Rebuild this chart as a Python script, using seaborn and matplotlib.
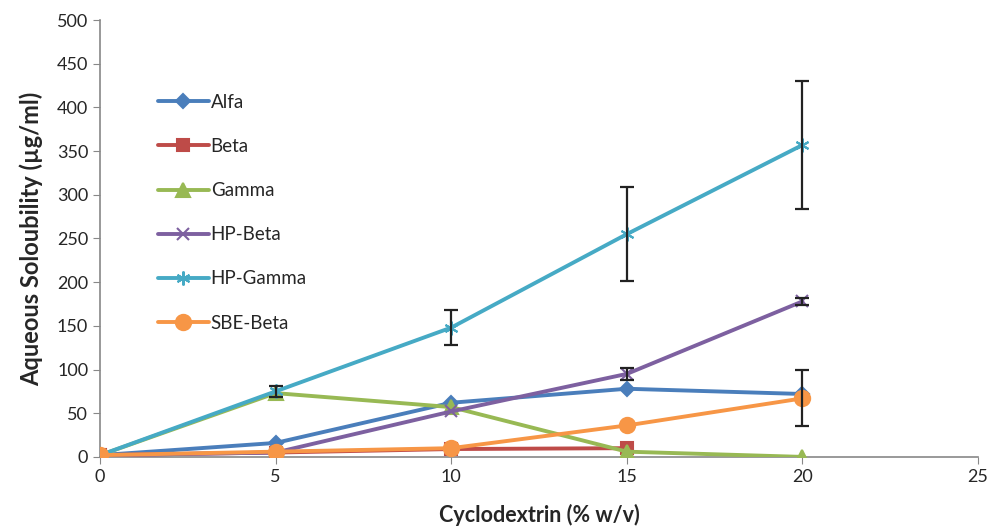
import matplotlib
matplotlib.use("Agg")
import matplotlib.pyplot as plt
import seaborn as sns
import numpy as np
import pandas as pd

# concentracao de ciclodextrina (% w/v)
conc = [0, 5, 10, 15, 20]

alfa = [2, 16, 62, 78, 72]
beta = [2, 5, 9, 10]            # so ate 15%
gamma = [2, 73, 57, 6, 0]
hp_beta = [2, 5, 52, 95, 178]
hp_gamma = [2, 75, 148, 255, 357]
sbe_beta = [2, 6, 10, 36, 67]

hp_gamma_err = [0, 6, 20, 54, 73]
hp_beta_err = [0, 0, 0, 7, 4]
sbe_beta_err = [0, 0, 0, 0, 32]

series_names = ["Alfa", "Beta", "Gamma", "HP-Beta", "HP-Gamma", "SBE-Beta"]
series_vals = [alfa, beta, gamma, hp_beta, hp_gamma, sbe_beta]

colors = ["#4a7ebb", "#be4b48", "#98b954", "#7d60a0", "#46aac5", "#f79646"]
markers = ["D", "s", "^", "x", (6, 2, 0), "o"]
msizes = [7, 9, 10, 9, 10, 11]

rows = []
for name, vals in zip(series_names, series_vals):
    for c, v in zip(conc, vals):
        rows.append({"conc": c, "sol": v, "cd": name})
df = pd.DataFrame(rows)

sns.set_style("white")
plt.rcParams["font.family"] = ["Lato", "DejaVu Sans"]

fig = plt.figure(figsize=(9.9, 5.27), dpi=100)
ax = fig.add_axes([0.101, 0.133, 0.887, 0.829])

for name, col, mk, ms in zip(series_names, colors, markers, msizes):
    sub = df[df["cd"] == name]
    sns.lineplot(data=sub, x="conc", y="sol", ax=ax, color=col, marker=mk,
                 markersize=ms, linewidth=2.8, label=name,
                 markeredgecolor=col, markeredgewidth=1.5, zorder=3)

# barras de erro
for vals, errs in [(hp_gamma, hp_gamma_err), (hp_beta, hp_beta_err), (sbe_beta, sbe_beta_err)]:
    x_e = [c for c, e in zip(conc, errs) if e > 0]
    y_e = [v for v, e in zip(vals, errs) if e > 0]
    e_e = [e for e in errs if e > 0]
    ax.errorbar(x_e, y_e, yerr=e_e, fmt="none", ecolor="#222222",
                elinewidth=1.6, capsize=5, capthick=1.6, zorder=4)

ax.set_xlim(0, 25)
ax.set_ylim(0, 500)
ax.set_xticks(np.arange(0, 26, 5))
ax.set_yticks(np.arange(0, 501, 50))
ax.tick_params(axis="both", labelsize=13, direction="out", length=5,
               color="#888888", bottom=True, left=True)
ax.spines["top"].set_visible(False)
ax.spines["right"].set_visible(False)
for s in ["left", "bottom"]:
    ax.spines[s].set_color("#888888")
    ax.spines[s].set_linewidth(1.2)

ax.set_xlabel("Cyclodextrin (% w/v)", fontsize=15.5, fontweight="bold", labelpad=14)
ax.set_ylabel("Aqueous Soloubility (\u00b5g/ml)", fontsize=17, fontweight="bold", labelpad=10)

ax.legend(loc="upper left", bbox_to_anchor=(0.047, 0.87), frameon=False,
          fontsize=13.5, labelspacing=1.45, handlelength=2.7, handletextpad=0.1)

plt.savefig("out.png", dpi=100)
plt.close()
